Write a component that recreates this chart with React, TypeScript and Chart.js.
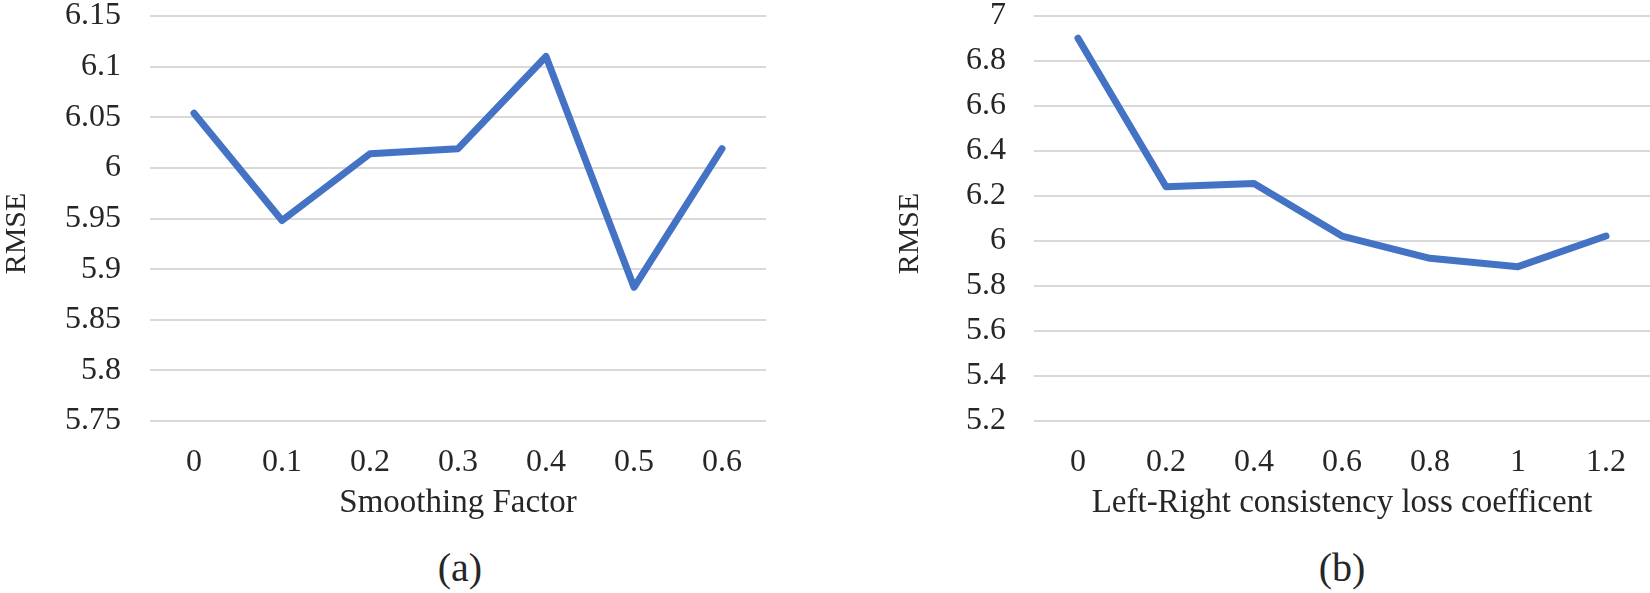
import React, { useEffect, useRef } from 'react';
import { Chart, registerables } from 'chart.js';

Chart.register(...registerables);

// ---- Data ----
const smoothingFactors = ['0', '0.1', '0.2', '0.3', '0.4', '0.5', '0.6'];
const rmseSmoothing = [6.054, 5.948, 6.014, 6.019, 6.11, 5.882, 6.019];
const yTicksSmoothing = [5.75, 5.8, 5.85, 5.9, 5.95, 6.0, 6.05, 6.1, 6.15];

const lrCoefficients = ['0', '0.2', '0.4', '0.6', '0.8', '1', '1.2'];
const rmseLR = [6.901, 6.241, 6.256, 6.022, 5.923, 5.886, 6.022];
const yTicksLR = [5.2, 5.4, 5.6, 5.8, 6.0, 6.2, 6.4, 6.6, 6.8, 7.0];

const FONT_FAMILY = "'Liberation Serif', 'Times New Roman', serif";
const TEXT_COLOR = '#262626';
const LINE_COLOR = '#4472C4';
const GRID_COLOR = '#D9D9D9';

type Props = {
  labels: string[];
  values: number[];
  yTicks: number[];
  xTitle: string;
  yTitle: string;
  left: number;
  width: number;
  yAxisWidth: number;
  tickPad: number;
};

function LineChart({ labels, values, yTicks, xTitle, yTitle, left, width, yAxisWidth, tickPad }: Props) {
  const ref = useRef<HTMLCanvasElement>(null);
  useEffect(() => {
    const font = { family: FONT_FAMILY, size: 32 };
    const titleFont = { family: FONT_FAMILY, size: 33 };
    const yTitlePlugin = {
      id: 'yTitle',
      afterDraw(chart: any) {
        const { ctx, chartArea } = chart;
        ctx.save();
        ctx.font = `30px ${FONT_FAMILY}`;
        ctx.fillStyle = TEXT_COLOR;
        ctx.translate(17, (chartArea.top + chartArea.bottom) / 2 + 15);
        ctx.rotate(-Math.PI / 2);
        ctx.textAlign = 'center';
        ctx.textBaseline = 'middle';
        ctx.fillText(yTitle, 0, 0);
        ctx.restore();
      },
    };
    const chart = new Chart(ref.current as HTMLCanvasElement, {
      type: 'line',
      data: {
        labels,
        datasets: [
          {
            data: values,
            borderColor: LINE_COLOR,
            backgroundColor: LINE_COLOR,
            borderWidth: 7,
            pointRadius: 0,
            pointHoverRadius: 0,
            borderCapStyle: 'round',
            borderJoinStyle: 'round',
            tension: 0,
            fill: false,
          },
        ],
      },
      options: {
        responsive: false,
        animation: false,
        devicePixelRatio: 1,
        layout: { padding: { top: 16, left: 0, right: 0, bottom: 0 } },
        plugins: { legend: { display: false }, tooltip: { enabled: false } },
        scales: {
          x: {
            type: 'category',
            offset: true,
            grid: { display: false, drawTicks: false },
            border: { display: false },
            ticks: { font, color: TEXT_COLOR, padding: 22, maxRotation: 0, autoSkip: false },
            title: { display: true, text: xTitle, font: titleFont, color: TEXT_COLOR, padding: { top: 0, bottom: 7 } },
            afterFit: (s: any) => {
              s.height = 109;
              s.paddingLeft = 0;
              s.paddingRight = 0;
            },
          },
          y: {
            min: yTicks[0],
            max: yTicks[yTicks.length - 1],
            grid: { color: GRID_COLOR, lineWidth: 2, drawTicks: false },
            border: { display: false },
            afterBuildTicks: (s: any) => {
              s.ticks = yTicks.map((v) => ({ value: v }));
            },
            ticks: {
              font,
              color: TEXT_COLOR,
              padding: tickPad,
              callback: (v: any) => String(Number(Number(v).toFixed(2))),
            },
            afterFit: (s: any) => {
              s.width = yAxisWidth;
              s.paddingTop = 0;
              s.paddingBottom = 0;
            },
          },
        },
      } as any,
      plugins: [yTitlePlugin],
    });
    return () => chart.destroy();
  }, []);
  return (
    <canvas
      ref={ref}
      width={width}
      height={530}
      style={{ position: 'absolute', left, top: 0, width, height: 530 }}
    />
  );
}

const captionStyle = (cx: number): React.CSSProperties => ({
  position: 'absolute',
  left: cx - 50,
  top: 546,
  width: 100,
  height: 44,
  lineHeight: '44px',
  textAlign: 'center',
  fontFamily: FONT_FAMILY,
  fontSize: 40,
  color: TEXT_COLOR,
});

export default function App() {
  return (
    <div style={{ position: 'absolute', left: 0, top: 0, width: 1650, height: 593, background: '#fff', overflow: 'hidden' }}>
      <LineChart
        labels={smoothingFactors}
        values={rmseSmoothing}
        yTicks={yTicksSmoothing}
        xTitle="Smoothing Factor"
        yTitle="RMSE"
        left={0}
        width={766}
        yAxisWidth={150}
        tickPad={29}
      />
      <LineChart
        labels={lrCoefficients}
        values={rmseLR}
        yTicks={yTicksLR}
        xTitle="Left-Right consistency loss coefficent"
        yTitle="RMSE"
        left={893}
        width={757}
        yAxisWidth={141}
        tickPad={28}
      />
      <div style={captionStyle(460)}>(a)</div>
      <div style={captionStyle(1342)}>(b)</div>
    </div>
  );
}
